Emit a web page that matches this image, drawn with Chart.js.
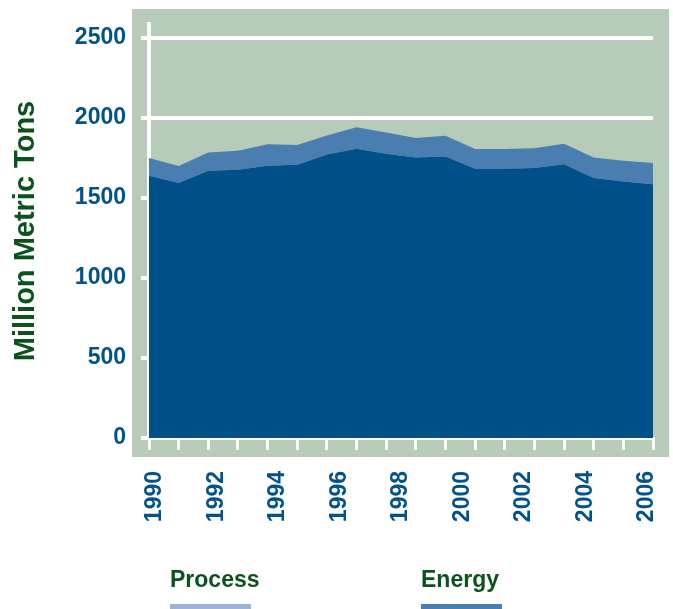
<!DOCTYPE html>
<html>
<head>
<meta charset="utf-8">
<script src="https://cdn.jsdelivr.net/npm/chart.js@4.4.1/dist/chart.umd.min.js"></script>
<style>
  html, body { margin: 0; padding: 0; background: #fff; }
  #wrap { position: relative; width: 673px; height: 609px; overflow: hidden; }
  #emissionsChart { display: block; }
  .legend-text {
    position: absolute;
    font: bold 23px "Liberation Sans", Arial, sans-serif;
    line-height: 23px;
    color: #0b531c;
    white-space: nowrap;
  }
  .legend-line { position: absolute; width: 81px; height: 6px; }
</style>
</head>
<body>
<div id="wrap">
  <canvas id="emissionsChart"></canvas>
  <div class="legend-text" style="left:170px; top:568px;">Process</div>
  <div class="legend-line" style="left:170px; top:604px; background:#9bb4d5;"></div>
  <div class="legend-text" style="left:421px; top:568px;">Energy</div>
  <div class="legend-line" style="left:421px; top:604px; background:#4a7db0;"></div>
</div>
<script>
// values in million metric tons (18 samples, 1990 -> 2006)
const energy  = [1639, 1594, 1671, 1677, 1702, 1708, 1772, 1808, 1777, 1754, 1760, 1683, 1683, 1688, 1712, 1625, 1604, 1587];
const process = [111, 106, 114, 118, 135, 124, 119, 134, 133, 122, 129, 123, 123, 123, 127, 129, 129, 132];
const pointLabels = energy.map((_, i) => String(i));

const yearTicks  = [1990, 1992, 1994, 1996, 1998, 2000, 2002, 2004, 2006];
const valueTicks = [0, 500, 1000, 1500, 2000, 2500];

const FONT = '"Liberation Sans", Arial, sans-serif';
const TICK_BLUE = '#03538b';

// green panel behind the plot
const plotBackground = {
    id: 'plotBackground',
    beforeDraw(chart) {
        const { ctx, chartArea: a } = chart;
        ctx.save();
        ctx.fillStyle = '#b6cbb8';
        ctx.fillRect(a.left - 17, a.top - 15, a.right - a.left + 33, a.bottom - a.top + 34);
        ctx.restore();
    }
};

// no extra label padding, keep the plot box where the picture has it
function noPadding(s) {
    s.paddingLeft = 0;
    s.paddingRight = 0;
    s.paddingTop = 0;
    s.paddingBottom = 0;
}

const ctx = document.getElementById('emissionsChart').getContext('2d');

new Chart(ctx, {
    type: 'line',
    data: {
        labels: pointLabels,
        datasets: [
            {
                label: 'Energy',
                data: energy,
                backgroundColor: '#00508a',
                borderColor: 'rgba(0,0,0,0)',
                borderWidth: 0,
                pointRadius: 0,
                tension: 0,
                fill: 'origin'
            },
            {
                label: 'Process',
                data: process,
                backgroundColor: '#4a7eb0',
                borderColor: 'rgba(0,0,0,0)',
                borderWidth: 0,
                pointRadius: 0,
                tension: 0,
                fill: '-1'
            }
        ]
    },
    options: {
        responsive: true,
        maintainAspectRatio: false,
        animation: false,
        layout: { padding: { top: 24, right: 20, bottom: 0, left: 0 } },
        plugins: {
            legend: { display: false },
            tooltip: { enabled: false }
        },
        scales: {
            // tick comb under the plot
            x: {
                type: 'category',
                position: 'bottom',
                weight: 0,
                grid: { color: '#fff', lineWidth: 3, drawOnChartArea: false, tickLength: 12 },
                border: { display: true, color: '#fff', width: 3 },
                ticks: { display: false },
                afterFit: s => { s.height = 14; noPadding(s); }
            },
            // year labels
            years: {
                type: 'linear',
                position: 'bottom',
                weight: 1,
                min: 1989.805,
                max: 2006.195,
                grid: { display: false, drawTicks: false },
                border: { display: false },
                afterBuildTicks: s => { s.ticks = yearTicks.map(v => ({ value: v })); },
                ticks: {
                    autoSkip: false,
                    minRotation: 90,
                    maxRotation: 90,
                    padding: 19,
                    color: TICK_BLUE,
                    font: { family: FONT, size: 23, weight: 'bold' },
                    callback: v => String(v)
                },
                afterFit: s => { s.height = 157; noPadding(s); }
            },
            y: {
                stacked: true,
                min: 0,
                max: 2588,
                afterBuildTicks: s => { s.ticks = valueTicks.map(v => ({ value: v })); },
                grid: { color: '#fff', lineWidth: 4, tickLength: 8 },
                border: { display: true, color: '#fff', width: 4 },
                ticks: {
                    padding: 15,
                    color: TICK_BLUE,
                    font: { family: FONT, size: 23, weight: 'bold' },
                    callback: v => String(v)
                },
                title: {
                    display: true,
                    text: 'Million Metric Tons',
                    color: '#0b531c',
                    font: { family: FONT, size: 29, weight: 'bold', lineHeight: 1.2 },
                    padding: { top: 9, bottom: 0 }
                },
                afterFit: s => { s.width = 149; noPadding(s); }
            }
        }
    },
    plugins: [plotBackground]
});
</script>
</body>
</html>
